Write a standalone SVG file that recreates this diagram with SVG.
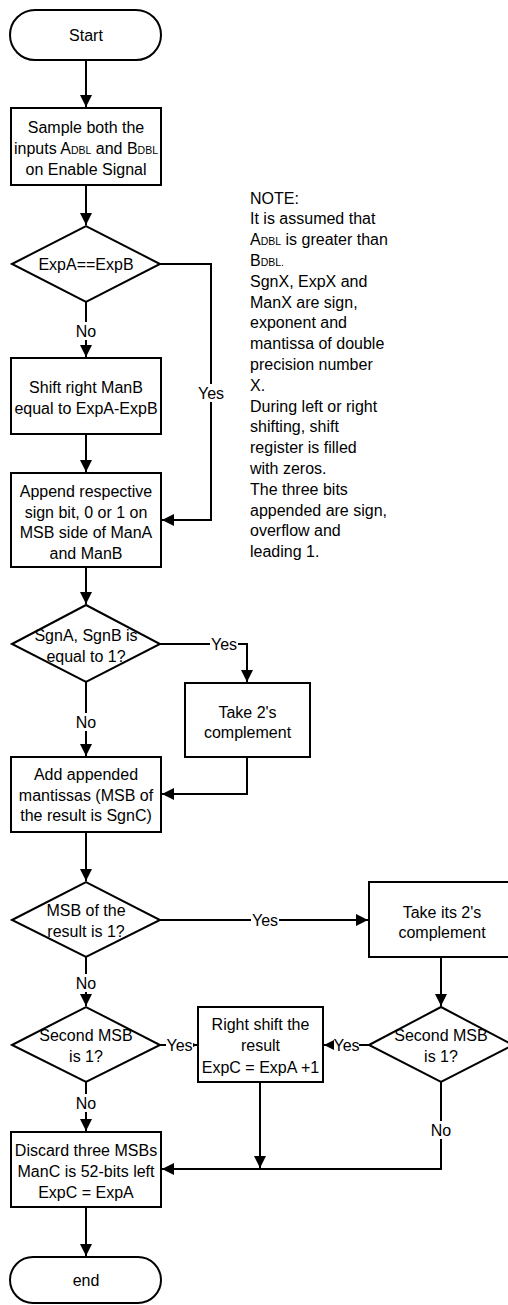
<svg xmlns="http://www.w3.org/2000/svg" width="508" height="1305" viewBox="0 0 508 1305">
<defs>
<style>
.sh{fill:#fff;stroke:#000;stroke-width:2}
.t{font-family:"Liberation Sans",Arial,sans-serif;font-size:16px;fill:#000;text-anchor:middle}
.n{font-family:"Liberation Sans",Arial,sans-serif;font-size:16px;fill:#000}
.s{font-size:10.5px}
.c{fill:none;stroke:#000;stroke-width:2;marker-end:url(#ah)}
.lb{fill:#fff;stroke:none}
</style>
<marker id="ah" markerUnits="userSpaceOnUse" markerWidth="12" markerHeight="12" viewBox="0 0 12 12" refX="12" refY="6" orient="auto"><path d="M0,0 L12,6 L0,12 z" fill="#000"/></marker>
</defs>
<rect width="508" height="1305" fill="#fff"/>

<g id="connectors">
<path class="c" d="M86,60 V107"/>
<path class="c" d="M86,185 V225"/>
<path class="c" d="M86,302 V357"/>
<path class="c" d="M160,264 H211 V520 H162"/>
<path class="c" d="M86,434 V472"/>
<path class="c" d="M86,567 V604"/>
<path class="c" d="M160,644 H247 V682"/>
<path class="c" d="M86,682 V756"/>
<path class="c" d="M247,757 V794 H162"/>
<path class="c" d="M86,832 V881"/>
<path class="c" d="M160,920 H368"/>
<path class="c" d="M86,957 V1006"/>
<path class="c" d="M441,957 V1006"/>
<path class="c" d="M369,1045 H324"/>
<path class="c" d="M160,1045 H197"/>
<path class="c" d="M86,1082 V1131"/>
<path class="c" d="M260,1082 V1168"/>
<path class="c" d="M441,1082 V1169 H162"/>
<path class="c" d="M86,1207 V1256"/>
<g id="labels">
<rect class="lb" x="74" y="322" width="24" height="18"/><text class="t" x="86" y="336.5">No</text>
<rect class="lb" x="197" y="384" width="28" height="18"/><text class="t" x="211" y="398.5">Yes</text>
<rect class="lb" x="210" y="635" width="28" height="18"/><text class="t" x="224" y="649.5">Yes</text>
<rect class="lb" x="74" y="713" width="24" height="18"/><text class="t" x="86" y="727.5">No</text>
<rect class="lb" x="251" y="911" width="28" height="18"/><text class="t" x="265" y="925.5">Yes</text>
<rect class="lb" x="74" y="974" width="24" height="18"/><text class="t" x="86" y="988.5">No</text>
<rect class="lb" x="166" y="1036" width="27" height="18"/><text class="t" x="179.5" y="1050.5">Yes</text>
<rect class="lb" x="334" y="1036" width="25" height="18"/><text class="t" x="346.5" y="1050.5">Yes</text>
<rect class="lb" x="74" y="1094" width="24" height="18"/><text class="t" x="86" y="1108.5">No</text>
<rect class="lb" x="429" y="1121" width="24" height="18"/><text class="t" x="441" y="1135.5">No</text>
</g>
</g>

<g id="start"><rect class="sh" x="10" y="10" width="151" height="50" rx="25"/><text class="t" x="86" y="40.5">Start</text></g>
<g id="sample"><rect class="sh" x="11" y="108" width="150" height="77"/>
<text class="t" x="86" y="132.5">Sample both the</text>
<text class="t" x="86" y="153.5">inputs A<tspan class="s">DBL</tspan> and B<tspan class="s">DBL</tspan></text>
<text class="t" x="86" y="174.5">on Enable Signal</text></g>
<g id="expeq"><polygon class="sh" points="12,264 86,226 160,264 86,302"/><text class="t" x="86" y="269.5">ExpA==ExpB</text></g>
<g id="shift"><rect class="sh" x="11" y="358" width="150" height="76"/>
<text class="t" x="86" y="392.5">Shift right ManB</text>
<text class="t" x="86" y="413.5">equal to ExpA-ExpB</text></g>
<g id="append"><rect class="sh" x="11" y="473" width="150" height="94"/>
<text class="t" x="86" y="497">Append respective</text>
<text class="t" x="86" y="517.5">sign bit, 0 or 1 on</text>
<text class="t" x="86" y="538">MSB side of ManA</text>
<text class="t" x="86" y="558.5">and ManB</text></g>
<g id="sgn"><polygon class="sh" points="12,644 86,605 160,644 86,682"/>
<text class="t" x="86" y="640.5">SgnA, SgnB is</text>
<text class="t" x="86" y="662">equal to 1?</text></g>
<g id="take2"><rect class="sh" x="185" y="683" width="125" height="74"/>
<text class="t" x="247.5" y="717.5">Take 2's</text>
<text class="t" x="247.5" y="738">complement</text></g>
<g id="add"><rect class="sh" x="11" y="757" width="150" height="75"/>
<text class="t" x="86" y="780">Add appended</text>
<text class="t" x="86" y="800.5">mantissas (MSB of</text>
<text class="t" x="86" y="821">the result is SgnC)</text></g>
<g id="msb"><polygon class="sh" points="12,920 86,882 160,920 86,957"/>
<text class="t" x="86" y="915.5">MSB of the</text>
<text class="t" x="86" y="937">result is 1?</text></g>
<g id="takeits"><rect class="sh" x="369" y="882" width="146" height="75"/>
<text class="t" x="442" y="917.5">Take its 2's</text>
<text class="t" x="442" y="938">complement</text></g>
<g id="second1"><polygon class="sh" points="12,1045 86,1007 160,1045 86,1082"/>
<text class="t" x="86" y="1040.5">Second MSB</text>
<text class="t" x="86" y="1062">is 1?</text></g>
<g id="rshift"><rect class="sh" x="198" y="1007" width="125" height="75"/>
<text class="t" x="260.5" y="1029.5">Right shift the</text>
<text class="t" x="260.5" y="1051">result</text>
<text class="t" x="260.5" y="1072.5">ExpC = ExpA +1</text></g>
<g id="second2"><polygon class="sh" points="369,1045 441,1007 513,1045 441,1082"/>
<text class="t" x="441" y="1040.5">Second MSB</text>
<text class="t" x="441" y="1062">is 1?</text></g>
<g id="discard"><rect class="sh" x="11" y="1132" width="150" height="75"/>
<text class="t" x="86" y="1155.5">Discard three MSBs</text>
<text class="t" x="86" y="1176.5">ManC is 52-bits left</text>
<text class="t" x="86" y="1197.5">ExpC = ExpA</text></g>
<g id="end"><rect class="sh" x="10" y="1257" width="151" height="46" rx="23"/><text class="t" x="86" y="1285.5">end</text></g>

<g id="note"><text class="n">
<tspan x="250" y="203.5">NOTE:</tspan>
<tspan x="250" dy="20.8">It is assumed that</tspan>
<tspan x="250" dy="20.8">A<tspan class="s">DBL</tspan> is greater than</tspan>
<tspan x="250" dy="20.8">B<tspan class="s">DBL.</tspan></tspan>
<tspan x="250" dy="20.8">SgnX, ExpX and</tspan>
<tspan x="250" dy="20.8">ManX are sign,</tspan>
<tspan x="250" dy="20.8">exponent and</tspan>
<tspan x="250" dy="20.8">mantissa of double</tspan>
<tspan x="250" dy="20.8">precision number</tspan>
<tspan x="250" dy="20.8">X.</tspan>
<tspan x="250" dy="20.8">During left or right</tspan>
<tspan x="250" dy="20.8">shifting, shift</tspan>
<tspan x="250" dy="20.8">register is filled</tspan>
<tspan x="250" dy="20.8">with zeros.</tspan>
<tspan x="250" dy="20.8">The three bits</tspan>
<tspan x="250" dy="20.8">appended are sign,</tspan>
<tspan x="250" dy="20.8">overflow and</tspan>
<tspan x="250" dy="20.8">leading 1.</tspan>
</text></g>
</svg>
